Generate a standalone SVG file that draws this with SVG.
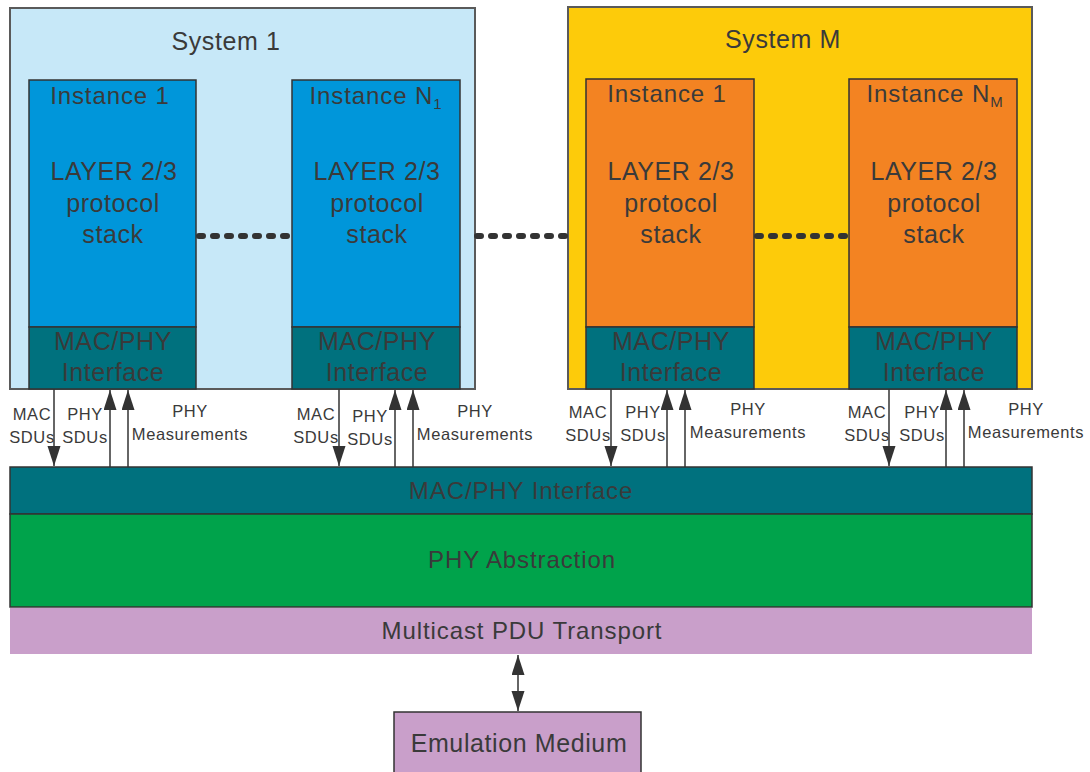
<svg xmlns="http://www.w3.org/2000/svg" width="1090" height="772" viewBox="0 0 1090 772">
<defs>
<style>
text{font-family:"Liberation Sans",Arial,sans-serif;fill:#3a3a3a;text-anchor:middle}
.big{font-size:25px;letter-spacing:0.6px}
.mid{font-size:24px;letter-spacing:0.9px}
.sm{font-size:16.5px;letter-spacing:0.6px}
.sys{stroke:#5a5a5a;stroke-width:2}
.inst{stroke:#333;stroke-width:1.5}
.blue{fill:#0096da}
.orange{fill:#f38322}
.teal{fill:#00717e}
.arr{stroke:#333;stroke-width:1.5;fill:none;marker-end:url(#ah)}
.dots{stroke:#333;stroke-width:6;stroke-linecap:round;stroke-dasharray:4 10;fill:none}
</style>
<marker id="ah" markerUnits="userSpaceOnUse" markerWidth="22" markerHeight="14" refX="20" refY="6.5" orient="auto">
<path d="M0,0 L20,6.5 L0,13 z" fill="#333"/>
</marker>
<marker id="ahs" markerUnits="userSpaceOnUse" markerWidth="22" markerHeight="14" refX="20" refY="6.5" orient="auto-start-reverse">
<path d="M0,0 L20,6.5 L0,13 z" fill="#333"/>
</marker>
</defs>

<g id="system1">
<rect class="sys" x="10" y="8" width="465" height="381" fill="#c7e8f8"/>
<text class="big" x="226" y="50">System 1</text>
</g>
<g id="systemM">
<rect class="sys" x="568" y="7" width="464" height="382" fill="#fdcb0a"/>
<text class="big" x="783" y="48">System M</text>
</g>

<g id="s1-instance1">
<rect class="inst blue" x="29" y="80" width="167" height="247"/>
<rect class="inst teal" x="29" y="327" width="167" height="62"/>
<text class="mid" x="110" y="104">Instance 1</text>
<text class="big" x="114" y="180">LAYER 2/3</text>
<text class="big" x="113" y="212">protocol</text>
<text class="big" x="113" y="243">stack</text>
<text class="big" x="113" y="350">MAC/PHY</text>
<text class="big" x="113" y="381">Interface</text>
</g>
<g id="s1-instanceN1">
<rect class="inst blue" x="292" y="80" width="168" height="247"/>
<rect class="inst teal" x="292" y="327" width="168" height="62"/>
<text class="mid" x="376" y="104">Instance N<tspan font-size="15" dy="5">1</tspan></text>
<text class="big" x="377" y="180">LAYER 2/3</text>
<text class="big" x="377" y="212">protocol</text>
<text class="big" x="377" y="243">stack</text>
<text class="big" x="377" y="350">MAC/PHY</text>
<text class="big" x="377" y="381">Interface</text>
</g>
<g id="sM-instance1">
<rect class="inst orange" x="586" y="79" width="168" height="248"/>
<rect class="inst teal" x="586" y="327" width="168" height="62"/>
<text class="mid" x="667" y="102">Instance 1</text>
<text class="big" x="671" y="180">LAYER 2/3</text>
<text class="big" x="671" y="212">protocol</text>
<text class="big" x="671" y="243">stack</text>
<text class="big" x="671" y="350">MAC/PHY</text>
<text class="big" x="671" y="381">Interface</text>
</g>
<g id="sM-instanceNM">
<rect class="inst orange" x="849" y="79" width="168" height="248"/>
<rect class="inst teal" x="849" y="327" width="168" height="62"/>
<text class="mid" x="935" y="102">Instance N<tspan font-size="15" dy="5">M</tspan></text>
<text class="big" x="934" y="180">LAYER 2/3</text>
<text class="big" x="934" y="212">protocol</text>
<text class="big" x="934" y="243">stack</text>
<text class="big" x="934" y="350">MAC/PHY</text>
<text class="big" x="934" y="381">Interface</text>
</g>

<g id="mac-phy-interface">
<rect x="10" y="467" width="1022" height="47" fill="#00717e" stroke="#333" stroke-width="1.5"/>
<text class="mid" x="521" y="499">MAC/PHY Interface</text>
</g>
<g id="phy-abstraction">
<rect x="10" y="514" width="1022" height="93" fill="#00a34b" stroke="#333" stroke-width="1.5"/>
<text class="mid" x="522" y="568">PHY Abstraction</text>
</g>
<g id="multicast">
<rect x="10" y="608" width="1022" height="46" fill="#c99fca"/>
<text class="mid" x="522" y="639">Multicast PDU Transport</text>
</g>
<g id="emulation-medium">
<rect x="394" y="712" width="247" height="70" fill="#c99fca" stroke="#333" stroke-width="1.5"/>
<text class="big" x="519" y="752">Emulation Medium</text>
</g>

<g id="connectors">
<path class="dots" d="M199,236 H292"/>
<path class="dots" d="M477,236 H568"/>
<path class="dots" d="M757,236 H849"/>

<path class="arr" d="M54,389 V466"/>
<path class="arr" d="M110,467 V390"/>
<path class="arr" d="M128,467 V390"/>
<path class="arr" d="M339,389 V466"/>
<path class="arr" d="M395,467 V390"/>
<path class="arr" d="M413,467 V390"/>
<path class="arr" d="M611,389 V466"/>
<path class="arr" d="M667,467 V390"/>
<path class="arr" d="M685,467 V390"/>
<path class="arr" d="M889,389 V466"/>
<path class="arr" d="M946,467 V390"/>
<path class="arr" d="M964,467 V390"/>

<path d="M518,655 V711" stroke="#333" stroke-width="1.5" fill="none" marker-start="url(#ahs)" marker-end="url(#ahs)"/>
</g>

<g id="labels">
<text class="sm" x="32" y="420">MAC</text>
<text class="sm" x="32" y="443">SDUs</text>
<text class="sm" x="85" y="420">PHY</text>
<text class="sm" x="85" y="443">SDUs</text>
<text class="sm" x="190" y="417">PHY</text>
<text class="sm" x="190" y="440">Measurements</text>

<text class="sm" x="316" y="420">MAC</text>
<text class="sm" x="316" y="443">SDUs</text>
<text class="sm" x="370" y="422">PHY</text>
<text class="sm" x="370" y="445">SDUs</text>
<text class="sm" x="475" y="417">PHY</text>
<text class="sm" x="475" y="440">Measurements</text>

<text class="sm" x="588" y="418">MAC</text>
<text class="sm" x="588" y="441">SDUs</text>
<text class="sm" x="643" y="418">PHY</text>
<text class="sm" x="643" y="441">SDUs</text>
<text class="sm" x="748" y="415">PHY</text>
<text class="sm" x="748" y="438">Measurements</text>

<text class="sm" x="867" y="418">MAC</text>
<text class="sm" x="867" y="441">SDUs</text>
<text class="sm" x="922" y="418">PHY</text>
<text class="sm" x="922" y="441">SDUs</text>
<text class="sm" x="1026" y="415">PHY</text>
<text class="sm" x="1026" y="438">Measurements</text>
</g>
</svg>
